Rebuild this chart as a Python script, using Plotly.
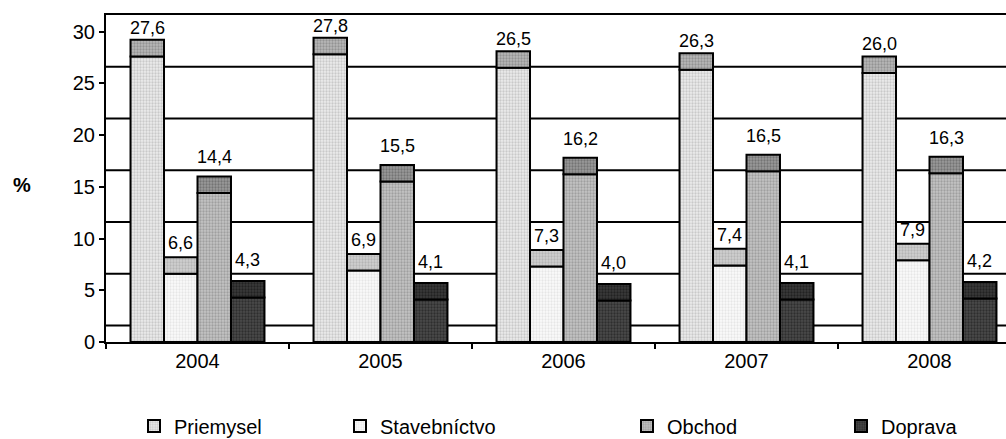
import plotly.graph_objects as go

# ---- data ----
years = ["2004", "2005", "2006", "2007", "2008"]
priemysel = [27.6, 27.8, 26.5, 26.3, 26.0]
stavebnictvo = [6.6, 6.9, 7.3, 7.4, 7.9]
obchod = [14.4, 15.5, 16.2, 16.5, 16.3]
doprava = [4.3, 4.1, 4.0, 4.1, 4.2]
series_names = ["Priemysel", "Stavebníctvo", "Obchod", "Doprava"]
y_tick_vals = [0, 5, 10, 15, 20, 25, 30]

series_values = [priemysel, stavebnictvo, obchod, doprava]

# ---- style ----
W, H = 1006, 439
ML, MT, MB = 106, 15, 97
PLOT_W = W - ML
PLOT_H = H - MT - MB
CAT_PX = 183.0
DEPTH = 1.6                    # apparent 3D depth of the bar tops / back wall
BAR_W = 0.183
OFFSETS = [-0.366, -0.183, 0.0, 0.183]
FONT = "Liberation Sans, Arial, sans-serif"

styles = [
    dict(fbg="#ececec", ffg="#a6a6a6", tbg="#b8b8b8", tfg="#6e6e6e", shift=12, legend_px=134),
    dict(fbg="#fbfbfb", ffg="#d2d2d2", tbg="#d0d0d0", tfg="#9a9a9a", shift=14, legend_px=340),
    dict(fbg="#c4c4c4", ffg="#7a7a7a", tbg="#9a9a9a", tfg="#4e4e4e", shift=19, legend_px=627),
    dict(fbg="#4a4a4a", ffg="#121212", tbg="#3a3a3a", tfg="#0a0a0a", shift=21, legend_px=841),
]

fig = go.Figure()
legend_keys = ["legend", "legend2", "legend3", "legend4"]

for i, (name, vals, st) in enumerate(zip(series_names, series_values, styles)):
    # front face
    fig.add_trace(go.Bar(
        x=years, y=vals, base=[0] * len(vals), name=name,
        width=BAR_W, offset=OFFSETS[i],
        marker=dict(color=st["fbg"],
                    pattern=dict(shape=".", fgcolor=st["ffg"], bgcolor=st["fbg"],
                                 size=3, solidity=0.45),
                    line=dict(color="black", width=2)),
        legend=legend_keys[i], showlegend=True, hoverinfo="skip",
    ))
    # top face (3D look)
    fig.add_trace(go.Bar(
        x=years, y=[DEPTH] * len(vals), base=vals, name=name,
        width=BAR_W, offset=OFFSETS[i],
        marker=dict(color=st["tbg"],
                    pattern=dict(shape=".", fgcolor=st["tfg"], bgcolor=st["tbg"],
                                 size=3, solidity=0.45),
                    line=dict(color="black", width=2)),
        legend=legend_keys[i], showlegend=False, hoverinfo="skip",
    ))

# data labels
annotations = []
for i, (vals, st) in enumerate(zip(series_values, styles)):
    for j, v in enumerate(vals):
        annotations.append(dict(
            x=j + OFFSETS[i] + BAR_W / 2, y=v + DEPTH, xref="x", yref="y",
            text=f"{v:.1f}".replace(".", ","), showarrow=False,
            yanchor="middle", yshift=st["shift"],
            font=dict(family=FONT, size=18, color="black"),
        ))

# axis title "%"
annotations.append(dict(
    x=(22 - ML) / PLOT_W, y=(342 - 185) / PLOT_H, xref="paper", yref="paper",
    text="<b>%</b>", showarrow=False, xanchor="center", yanchor="middle",
    font=dict(family=FONT, size=20, color="black"),
))

# back-wall gridlines (offset by the 3D depth)
shapes = []
for t in y_tick_vals[:-1]:
    shapes.append(dict(type="line", xref="paper", yref="y", x0=0, x1=1,
                       y0=t + DEPTH, y1=t + DEPTH, layer="below",
                       line=dict(color="black", width=2)))

legend_common = dict(orientation="h", yanchor="middle", xanchor="left",
                     y=(342 - 426) / PLOT_H,
                     font=dict(family=FONT, size=20, color="black"),
                     bgcolor="rgba(0,0,0,0)", borderwidth=0,
                     itemwidth=30, tracegroupgap=0)
legends = {}
for key, st in zip(legend_keys, styles):
    legends[key] = dict(legend_common, x=(st["legend_px"] - ML) / PLOT_W)

fig.update_layout(
    width=W, height=H,
    margin=dict(l=ML, r=0, t=MT, b=MB, pad=0, autoexpand=False),
    paper_bgcolor="white", plot_bgcolor="white",
    barmode="overlay",
    font=dict(family=FONT, size=20, color="black"),
    xaxis=dict(type="category", range=[-0.5, -0.5 + PLOT_W / CAT_PX],
               showline=True, linecolor="black", linewidth=2, mirror=True,
               ticks="outside", tickson="boundaries", ticklen=5, tickwidth=2,
               tickcolor="black", showgrid=False, zeroline=False,
               automargin=False,
               tickfont=dict(family=FONT, size=20, color="black")),
    yaxis=dict(range=[0, 30 + DEPTH], tickvals=y_tick_vals,
               ticktext=[str(v) for v in y_tick_vals],
               showline=True, linecolor="black", linewidth=2,
               ticks="outside", ticklen=5, tickwidth=2, tickcolor="black",
               showgrid=False, zeroline=False, automargin=False,
               tickfont=dict(family=FONT, size=20, color="black")),
    annotations=annotations,
    shapes=shapes,
    **legends,
)

fig.write_html("out.html",
               config={"displayModeBar": False},
               post_script="document.body.style.margin='0';document.body.style.overflow='hidden';")
